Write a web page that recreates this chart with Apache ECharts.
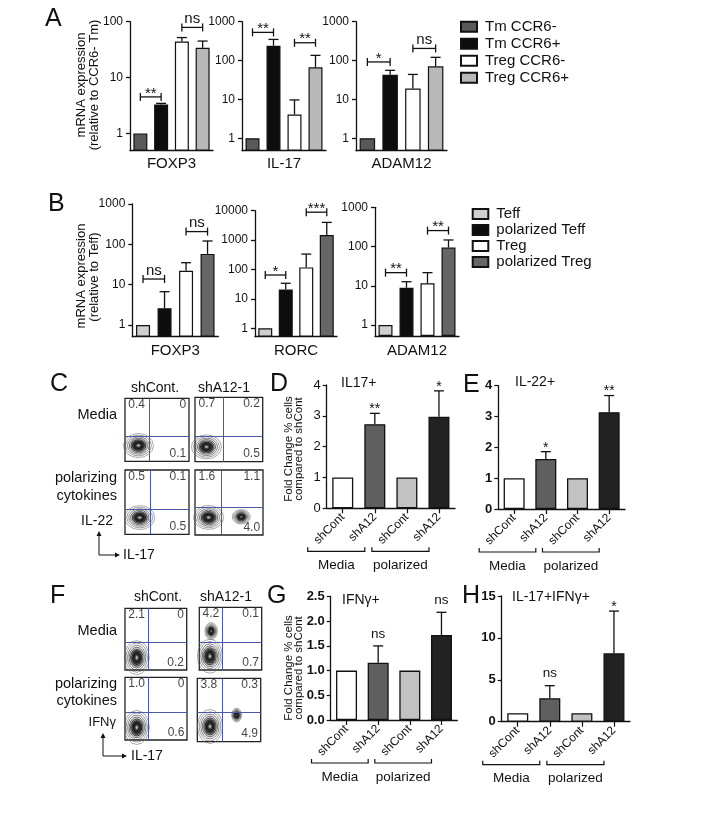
<!DOCTYPE html>
<html><head><meta charset="utf-8">
<script src="https://cdn.jsdelivr.net/npm/echarts@6/dist/echarts.min.js"></script>
<style>html,body{margin:0;padding:0;background:#fff}#c{width:728px;height:818px}</style>
</head><body><div id="c"></div>
<script>
// ================= DATA =================
// Panel A (relative to CCR6- Tm, log scale)
const aGroups = ['Tm CCR6-', 'Tm CCR6+', 'Treg CCR6-', 'Treg CCR6+'];
const aGenes = ['FOXP3', 'IL-17', 'ADAM12'];
const aFoxp3 = [1, 3.3, 44, 34];
const aFoxp3Err = [null, 3.45, 52, 45];
const aIl17 = [1, 240, 4.1, 67];
const aIl17Err = [null, 350, 9.7, 136];
const aAdam12 = [1, 43, 19, 71];
const aAdam12Err = [null, 56, 44, 121];
const aFoxp3Sig = [[0, 1, 4.5, '**'], [2, 3, 79, 'ns']];
const aIl17Sig = [[0, 1, 531, '**'], [2, 3, 287, '**']];
const aAdam12Sig = [[0, 1, 92, '*'], [2, 3, 205, 'ns']];
const aTicksFoxp3 = [1, 10, 100];
const aTicksOther = [1, 10, 100, 1000];

// Panel B (relative to Teff, log scale)
const bGroups = ['Teff', 'polarized Teff', 'Treg', 'polarized Treg'];
const bGenes = ['FOXP3', 'RORC', 'ADAM12'];
const bFoxp3 = [1, 2.6, 22, 58];
const bFoxp3Err = [null, 6.7, 35, 121];
const bRorc = [1, 21, 118, 1490];
const bRorcErr = [null, 34, 335, 4000];
const bAdam12 = [1, 8.9, 11.6, 94];
const bAdam12Err = [null, 12.7, 21.6, 147];
const bFoxp3Sig = [[0, 1, 13.8, 'ns'], [2, 3, 207, 'ns']];
const bRorcSig = [[0, 1, 65, '*'], [2, 3, 8900, '***']];
const bAdam12Sig = [[0, 1, 21.6, '**'], [2, 3, 255, '**']];
const bTicks = [1, 10, 100, 1000];
const bTicksRorc = [1, 10, 100, 1000, 10000];

// Panels D, E, G, H (fold change vs shCont)
const shCats = ['shCont', 'shA12', 'shCont', 'shA12'];
const shGroups = ['Media', 'polarized'];
const dIl17 = [1, 2.73, 1, 2.97];
const dIl17Err = [null, 3.08, null, 3.81];
const dSig = ['', '**', '', '*'];
const eIl22 = [1, 1.62, 1, 3.14];
const eIl22Err = [null, 1.86, null, 3.68];
const eSig = ['', '*', '', '**'];
const gIfng = [1, 1.16, 1, 1.72];
const gIfngErr = [null, 1.50, null, 2.18];
const gSig = ['', 'ns', '', 'ns'];
const hDouble = [1, 2.8, 1, 8.16];
const hDoubleErr = [null, 4.3, null, 13.2];
const hSig = ['', 'ns', '', '*'];

// Panels C and F (flow cytometry quadrant percentages: top-left, top-right, bottom-right)
const flowCNums = [['0.4', '0', '0.1'], ['0.7', '0.2', '0.5'], ['0.5', '0.1', '0.5'], ['1.6', '1.1', '4.0']];
const flowFNums = [['2.1', '0', '0.2'], ['4.2', '0.1', '0.7'], ['1.0', '0', '0.6'], ['3.8', '0.3', '4.9']];
const flowCGates = [[0.38, 0.40], [0.42, 0.40], [0.39, 0.39], [0.39, 0.42]];
const flowFGates = [[0.38, 0.45], [0.36, 0.44], [0.38, 0.44], [0.385, 0.46]];
const flowCPops = [[[0.21, 0.25, 1]], [[0.17, 0.23, 1]], [[0.23, 0.26, 1]], [[0.2, 0.27, 1], [0.68, 0.28, 0.6]]];
const flowFPops = [[[0.19, 0.2, 1]], [[0.17, 0.22, 1], [0.19, 0.62, 0.5]], [[0.19, 0.2, 1]], [[0.2, 0.24, 1], [0.62, 0.42, 0.4]]];

// ================= BUILD =================
const FONT = "'Liberation Sans', Arial, Helvetica, sans-serif";
const INK = '#111';
const grids = [], xAxes = [], yAxes = [], series = [], graphics = [];

function errSeries(gi, data, sigTexts) {
  return {
    type: 'custom', xAxisIndex: gi, yAxisIndex: gi, z: 5, silent: true,
    encode: { x: 0, y: [1, 2] }, data: data.map(d => [d[0], d[1], d[2]]),
    renderItem: function (params, api) {
      const x = api.value(0);
      const p0 = api.coord([x, api.value(1)]);
      const p1 = api.coord([x, api.value(2)]);
      const ch = [
        { type: 'line', shape: { x1: p0[0], y1: p0[1], x2: p1[0], y2: p1[1] }, style: { stroke: INK, lineWidth: 1.3 } },
        { type: 'line', shape: { x1: p1[0] - 5, y1: p1[1], x2: p1[0] + 5, y2: p1[1] }, style: { stroke: INK, lineWidth: 1.3 } }
      ];
      const txt = sigTexts ? sigTexts[data[params.dataIndex][0]] : '';
      if (txt) {
        const star = txt.indexOf('*') >= 0;
        ch.push({ type: 'text', x: p1[0], y: p1[1] + (star ? 3 : -5),
          style: { text: txt, fontSize: star ? 14 : 13.5, fontFamily: FONT, fill: INK, align: 'center', verticalAlign: 'bottom' } });
      }
      return { type: 'group', children: ch };
    }
  };
}

function bracketSeries(gi, sig, t) {
  return {
    type: 'custom', xAxisIndex: gi, yAxisIndex: gi, z: 5, silent: true,
    encode: { x: [0, 1], y: 2 }, data: sig.map(s => [s[0], s[1], t(s[2])]),
    renderItem: function (params, api) {
      const a = api.coord([api.value(0), api.value(2)]);
      const b = api.coord([api.value(1), api.value(2)]);
      const txt = sig[params.dataIndex][3];
      const star = txt.indexOf('*') >= 0;
      return { type: 'group', children: [
        { type: 'line', shape: { x1: a[0], y1: a[1], x2: b[0], y2: b[1] }, style: { stroke: INK, lineWidth: 1.3 } },
        { type: 'line', shape: { x1: a[0], y1: a[1] - 4, x2: a[0], y2: a[1] + 4 }, style: { stroke: INK, lineWidth: 1.3 } },
        { type: 'line', shape: { x1: b[0], y1: b[1] - 4, x2: b[0], y2: b[1] + 4 }, style: { stroke: INK, lineWidth: 1.3 } },
        { type: 'text', x: (a[0] + b[0]) / 2, y: a[1] + (star ? 4 : -1),
          style: { text: txt, fontSize: 15, fontFamily: FONT, fill: INK, align: 'center', verticalAlign: 'bottom' } }
      ] };
    }
  };
}

function addLogPanel(cfg) {
  const gi = grids.length;
  grids.push({ left: cfg.rect[0], top: cfg.rect[1], width: cfg.rect[2], height: cfg.rect[3] });
  const t = v => Math.log10(v) - cfg.minLog;
  const tickVals = cfg.ticks.map(v => Math.log10(v) - cfg.minLog);
  xAxes.push({ gridIndex: gi, type: 'category', data: cfg.groups,
    axisLine: { lineStyle: { color: INK, width: 1.3 } }, axisTick: { show: false }, axisLabel: { show: false },
    name: cfg.gene, nameLocation: 'middle', nameGap: cfg.nameGap,
    nameTextStyle: { fontSize: 15, color: INK, fontFamily: FONT } });
  yAxes.push({ gridIndex: gi, type: 'value', min: 0, max: cfg.maxLog - cfg.minLog,
    axisLine: { show: true, lineStyle: { color: INK, width: 1.3 } },
    axisTick: { show: true, length: 4, customValues: tickVals, lineStyle: { color: INK, width: 1.3 } },
    axisLabel: { show: true, customValues: tickVals, fontSize: 12, color: INK, fontFamily: FONT, margin: 7,
      formatter: v => String(Math.round(Math.pow(10, v + cfg.minLog))) },
    splitLine: { show: false } });
  cfg.groups.forEach((name, i) => {
    series.push({ type: 'bar', name: name, xAxisIndex: gi, yAxisIndex: gi, barWidth: cfg.barWidth, barGap: '-100%', silent: true,
      data: cfg.values.map((v, j) => (j === i ? t(v) : '-')),
      itemStyle: { color: cfg.colors[i], borderColor: INK, borderWidth: 1.2 } });
  });
  const ed = [];
  cfg.values.forEach((v, j) => { if (cfg.errs[j] != null) ed.push([j, t(v), t(cfg.errs[j])]); });
  series.push(errSeries(gi, ed, null));
  series.push(bracketSeries(gi, cfg.sig, t));
}

function addFoldPanel(cfg) {
  const gi = grids.length;
  grids.push({ left: cfg.rect[0], top: cfg.rect[1], width: cfg.rect[2], height: cfg.rect[3] });
  xAxes.push({ gridIndex: gi, type: 'category', data: shCats,
    axisLine: { lineStyle: { color: INK, width: 1.3 } },
    axisTick: { show: true, alignWithLabel: true, length: 5, lineStyle: { color: INK, width: 1.2 } },
    axisLabel: { rotate: 45, fontSize: 12, color: INK, fontFamily: FONT, margin: 7, interval: 0 } });
  yAxes.push({ gridIndex: gi, type: 'value', min: 0, max: cfg.max, interval: cfg.interval,
    axisLine: { show: true, lineStyle: { color: INK, width: 1.3 } },
    axisTick: { show: true, length: 4, lineStyle: { color: INK, width: 1.2 } },
    axisLabel: { fontSize: 13, color: INK, fontFamily: FONT, margin: 6, fontWeight: cfg.bold ? 'bold' : 'normal',
      formatter: cfg.fmt },
    splitLine: { show: false } });
  series.push({ type: 'bar', name: cfg.name, xAxisIndex: gi, yAxisIndex: gi, barWidth: 21, silent: true,
    data: cfg.values.map((v, j) => ({ value: v, itemStyle: { color: cfg.colors[j] } })),
    itemStyle: { borderColor: INK, borderWidth: 1.3 } });
  const ed = [];
  cfg.values.forEach((v, j) => { if (cfg.errs[j] != null) ed.push([j, v, cfg.errs[j]]); });
  series.push(errSeries(gi, ed, cfg.sig));
  // group brackets (Media / polarized)
  series.push({ type: 'custom', xAxisIndex: gi, yAxisIndex: gi, silent: true, encode: { x: [0, 1], y: 2 },
    data: [[0, 1, 0], [2, 3, 0]],
    renderItem: function (params, api) {
      const a = api.coord([api.value(0), 0]);
      const b = api.coord([api.value(1), 0]);
      const l = a[0] - 35, r = b[0] - 10, y = a[1] + 43;
      return { type: 'group', children: [
        { type: 'polyline', shape: { points: [[l, y - 4], [l, y], [r, y], [r, y - 4]] }, style: { stroke: INK, lineWidth: 1.2, fill: null } },
        { type: 'text', x: (l + r) / 2, y: y + 14, style: { text: shGroups[params.dataIndex], fontSize: 13.5, fontFamily: FONT, fill: INK, align: 'center', verticalAlign: 'middle' } }
      ] };
    } });
}

const RING_SCALES = [1, 0.86, 0.73, 0.61, 0.5, 0.4, 0.3, 0.21, 0.12];
const RING_STYLE = [
  { color: 'rgba(0,0,0,0)', borderColor: '#666', borderWidth: 0.7 },
  { color: 'rgba(0,0,0,0)', borderColor: '#555', borderWidth: 0.7 },
  { color: 'rgba(0,0,0,0.05)', borderColor: '#444', borderWidth: 0.8 },
  { color: 'rgba(0,0,0,0.15)', borderColor: '#333', borderWidth: 0.8 },
  { color: 'rgba(0,0,0,0.35)', borderColor: '#222', borderWidth: 0.9 },
  { color: '#3a3a3a', borderColor: '#111', borderWidth: 0.9 },
  { color: '#1a1a1a', borderColor: '#111', borderWidth: 0.8 },
  { color: '#555', borderColor: '#111', borderWidth: 0.8 },
  { color: '#cfcfcf', borderColor: '#222', borderWidth: 0.6 }
];
function addFlow(rect, nums, gate, pops, base) {
  const gi = grids.length;
  grids.push({ left: rect[0], top: rect[1], width: rect[2], height: rect[3], show: true, borderColor: '#222', borderWidth: 1.3, backgroundColor: '#fff' });
  xAxes.push({ gridIndex: gi, type: 'value', min: 0, max: 1, show: false });
  yAxes.push({ gridIndex: gi, type: 'value', min: 0, max: 1, show: false });
  const rings = [];
  pops.forEach(p => RING_SCALES.forEach((s, k) => {
    rings.push({ value: [p[0], p[1]], symbolSize: [base[0] * p[2] * s, base[1] * p[2] * s], itemStyle: RING_STYLE[k] });
  }));
  series.push({ type: 'scatter', xAxisIndex: gi, yAxisIndex: gi, symbol: 'circle', silent: true, data: rings,
    markLine: { symbol: 'none', silent: true, label: { show: false }, lineStyle: { color: '#4a5aa8', width: 1, type: 'solid' },
      data: [{ xAxis: gate[0] }, { yAxis: gate[1] }] } });
  const lab = (align, va) => ({ show: true, position: [0, 0], align: align, verticalAlign: va, fontSize: 12, color: INK, fontFamily: FONT });
  series.push({ type: 'scatter', xAxisIndex: gi, yAxisIndex: gi, symbolSize: 1, silent: true, itemStyle: { color: 'rgba(0,0,0,0)' },
    data: [
      { value: [0.06, 0.985], label: Object.assign(lab('left', 'top'), { formatter: nums[0] }) },
      { value: [0.965, 0.985], label: Object.assign(lab('right', 'top'), { formatter: nums[1] }) },
      { value: [0.965, 0.02], label: Object.assign(lab('right', 'bottom'), { formatter: nums[2] }) }
    ] });
}

// ---- Panel A
const aColors = ['#595959', '#0d0d0d', '#ffffff', '#b8b8b8'];
addLogPanel({ rect: [130, 21.7, 83, 129], minLog: -0.31, maxLog: 2, ticks: aTicksFoxp3, groups: aGroups, gene: aGenes[0],
  values: aFoxp3, errs: aFoxp3Err, sig: aFoxp3Sig, colors: aColors, barWidth: 14, nameGap: 6 });
addLogPanel({ rect: [242, 21.7, 84, 129], minLog: -0.32, maxLog: 3, ticks: aTicksOther, groups: aGroups, gene: aGenes[1],
  values: aIl17, errs: aIl17Err, sig: aIl17Sig, colors: aColors, barWidth: 14, nameGap: 6 });
addLogPanel({ rect: [356, 21.7, 91, 129], minLog: -0.32, maxLog: 3, ticks: aTicksOther, groups: aGroups, gene: aGenes[2],
  values: aAdam12, errs: aAdam12Err, sig: aAdam12Sig, colors: aColors, barWidth: 15.5, nameGap: 6 });
// ---- Panel B
const bColors = ['#cfcfcf', '#0d0d0d', '#ffffff', '#666666'];
addLogPanel({ rect: [132.3, 204, 86, 132.7], minLog: -0.29, maxLog: 3, ticks: bTicks, groups: bGroups, gene: bGenes[0],
  values: bFoxp3, errs: bFoxp3Err, sig: bFoxp3Sig, colors: bColors, barWidth: 14, nameGap: 7 });
addLogPanel({ rect: [255, 210.7, 82, 126], minLog: -0.285, maxLog: 4, ticks: bTicksRorc, groups: bGroups, gene: bGenes[1],
  values: bRorc, errs: bRorcErr, sig: bRorcSig, colors: bColors, barWidth: 14, nameGap: 7 });
addLogPanel({ rect: [375, 207.3, 84, 128.7], minLog: -0.28, maxLog: 3, ticks: bTicks, groups: bGroups, gene: bGenes[2],
  values: bAdam12, errs: bAdam12Err, sig: bAdam12Sig, colors: bColors, barWidth: 14, nameGap: 7 });
// ---- Panels D E G H
const shColors = ['#ffffff', '#5f5f5f', '#c2c2c2', '#222222'];
addFoldPanel({ rect: [326.7, 385, 128.3, 123.3], max: 4, interval: 1, bold: false, name: 'IL17+', values: dIl17, errs: dIl17Err, sig: dSig, colors: shColors });
addFoldPanel({ rect: [498.3, 385.7, 126.7, 123.3], max: 4, interval: 1, bold: true, name: 'IL-22+', values: eIl22, errs: eIl22Err, sig: eSig, colors: shColors });
addFoldPanel({ rect: [330.7, 596.5, 126.6, 123.5], max: 2.5, interval: 0.5, bold: true, name: 'IFNγ+', values: gIfng, errs: gIfngErr, sig: gSig, colors: shColors, fmt: v => v.toFixed(1) });
addFoldPanel({ rect: [501.7, 596, 128.3, 125.7], max: 15, interval: 5, bold: true, name: 'IL-17+IFNγ+', values: hDouble, errs: hDoubleErr, sig: hSig, colors: shColors });
// ---- Panels C and F (flow)
const cRects = [[125, 398.3, 64, 63], [195, 397.3, 67.7, 64.4], [125, 470, 64, 64.3], [195, 470, 68, 65]];
const fRects = [[125, 608.3, 61.7, 61.7], [199.3, 607.3, 62.4, 62.7], [125, 677.3, 62, 62.7], [197.3, 678.3, 63.4, 63.4]];
cRects.forEach((r, i) => addFlow(r, flowCNums[i], flowCGates[i], flowCPops[i], [30, 24]));
fRects.forEach((r, i) => addFlow(r, flowFNums[i], flowFGates[i], flowFPops[i], [25, 34]));

// ---- Free text
function gtext(text, x, y, size, align, rot, bold) {
  return { type: 'text', x: x, y: y, rotation: rot || 0, silent: true, z: 10,
    style: { text: text, fontSize: size, fontFamily: FONT, fill: INK, fontWeight: bold ? 'bold' : 'normal',
      align: align || 'left', verticalAlign: 'middle', textAlign: align || 'left', textVerticalAlign: 'middle' } };
}
const R90 = Math.PI / 2;
[['A', 45, 19], ['B', 48, 204], ['C', 50, 384], ['D', 270, 384], ['E', 463, 385], ['F', 50, 596], ['G', 267, 596], ['H', 462, 596]]
  .forEach(l => graphics.push(gtext(l[0], l[1], l[2], 25)));
graphics.push(gtext('mRNA expression', 81, 85, 13, 'center', R90));
graphics.push(gtext('(relative to CCR6- Tm)', 94, 85, 13, 'center', R90));
graphics.push(gtext('mRNA expression', 81, 276, 13, 'center', R90));
graphics.push(gtext('(relative to Teff)', 94, 277, 13, 'center', R90));
[449, 668].forEach(cy => {
  graphics.push(gtext('Fold Change % cells', 288.5, cy, 11.5, 'center', R90));
  graphics.push(gtext('compared to shCont', 299, cy, 11.5, 'center', R90));
});
graphics.push(gtext('IL17+', 341, 383, 14));
graphics.push(gtext('IL-22+', 515, 382, 14));
graphics.push(gtext('IFNγ+', 342, 600, 14));
graphics.push(gtext('IL-17+IFNγ+', 512, 597, 14));
// C
graphics.push(gtext('shCont.', 155, 388, 14, 'center'));
graphics.push(gtext('shA12-1', 224, 388, 14, 'center'));
graphics.push(gtext('Media', 117, 415, 14.5, 'right'));
graphics.push(gtext('polarizing', 117, 478, 14.5, 'right'));
graphics.push(gtext('cytokines', 117, 496, 14.5, 'right'));
graphics.push(gtext('IL-22', 113, 521, 14, 'right'));
graphics.push(gtext('IL-17', 123, 555, 14, 'left'));
// F
graphics.push(gtext('shCont.', 158, 597, 14, 'center'));
graphics.push(gtext('shA12-1', 226, 597, 14, 'center'));
graphics.push(gtext('Media', 117, 631, 14.5, 'right'));
graphics.push(gtext('polarizing', 117, 684, 14.5, 'right'));
graphics.push(gtext('cytokines', 117, 701, 14.5, 'right'));
graphics.push(gtext('IFNγ', 116, 722, 13, 'right'));
graphics.push(gtext('IL-17', 131, 756, 14, 'left'));
function arrows(x, yTop, yCorner, xEnd) {
  const st = { stroke: INK, lineWidth: 1 };
  graphics.push({ type: 'line', silent: true, shape: { x1: x, y1: yCorner, x2: x, y2: yTop + 3 }, style: st });
  graphics.push({ type: 'line', silent: true, shape: { x1: x, y1: yCorner, x2: xEnd - 3, y2: yCorner }, style: st });
  graphics.push({ type: 'polygon', silent: true, shape: { points: [[x, yTop], [x - 2.5, yTop + 5], [x + 2.5, yTop + 5]] }, style: { fill: INK } });
  graphics.push({ type: 'polygon', silent: true, shape: { points: [[xEnd, yCorner], [xEnd - 5, yCorner - 2.5], [xEnd - 5, yCorner + 2.5]] }, style: { fill: INK } });
}
arrows(99, 531, 555, 120);
arrows(103, 733, 756, 127);

const legendCommon = { orient: 'vertical', icon: 'rect', selectedMode: false, padding: 0 };
const option = {
  animation: false,
  backgroundColor: '#fff',
  grid: grids, xAxis: xAxes, yAxis: yAxes, series: series,
  legend: [
    Object.assign({}, legendCommon, { data: aGroups, left: 460, top: 18.7, itemWidth: 16, itemHeight: 10, itemGap: 1,
      textStyle: { fontSize: 15, lineHeight: 16, color: INK, fontFamily: FONT, padding: [0, 0, 0, 3] } }),
    Object.assign({}, legendCommon, { data: bGroups, left: 471.7, top: 206, itemWidth: 15.6, itemHeight: 10, itemGap: 0,
      textStyle: { fontSize: 15, lineHeight: 16, color: INK, fontFamily: FONT, padding: [0, 0, 0, 3] } })
  ],
  graphic: graphics
};
const chart = echarts.init(document.getElementById('c'), null, { renderer: 'canvas' });
chart.setOption(option);
</script>
</body></html>
